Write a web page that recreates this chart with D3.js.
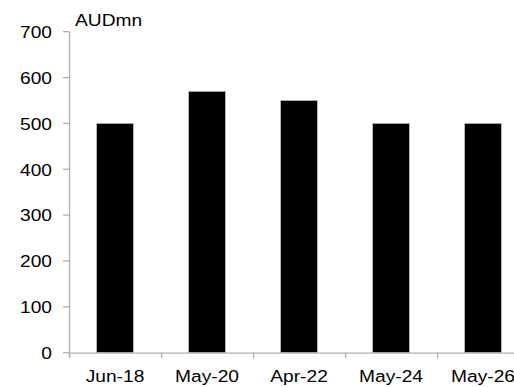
<!DOCTYPE html>
<html lang="en">
<head>
<meta charset="UTF-8">
<script src="https://d3js.org/d3.v7.min.js"></script>
<style>
  body { margin: 0; background: #fff; }
  svg { display: block; font-family: "Liberation Sans", Arial, sans-serif; }
</style>
</head>
<body>
<svg width="514" height="387"></svg>
<script>
const categories = ["Jun-18", "May-20", "Apr-22", "May-24", "May-26"]
const values = [500, 570, 550, 500, 500]
const yTicks = [0, 100, 200, 300, 400, 500, 600, 700]
const unitLabel = "AUDmn"

const svg = d3.select("svg")
const axisColor = "#b0b0b0"
const fontSize = 17
const stretch = 1.13 // text in the original looks a bit wide

const x = d3.scaleBand()
  .domain(categories)
  .range([69, 529])
  .paddingInner(0.6)
  .paddingOuter(0.3)
const y = d3.scaleLinear().domain([0, 700]).range([352.7, 31.7])

// bars
svg.selectAll("rect.bar")
  .data(values)
  .enter()
  .append("rect")
  .attr("class", "bar")
  .attr("x", (d, i) => x(categories[i]))
  .attr("y", d => y(d))
  .attr("width", x.bandwidth())
  .attr("height", d => y(0) - y(d))
  .attr("fill", "#000")
  .attr("stroke", "#c8c8c8")
  .attr("stroke-width", 0.6)

// y axis
svg.append("line")
  .attr("x1", 69.5).attr("x2", 69.5)
  .attr("y1", y(700)).attr("y2", y(0) + 5)
  .attr("stroke", axisColor).attr("stroke-width", 1.3)
svg.selectAll("line.ytick")
  .data(yTicks)
  .enter()
  .append("line")
  .attr("class", "ytick")
  .attr("x1", 63).attr("x2", 69.5)
  .attr("y1", d => y(d)).attr("y2", d => y(d))
  .attr("stroke", axisColor).attr("stroke-width", 1.3)
svg.selectAll("text.ylab")
  .data(yTicks)
  .enter()
  .append("text")
  .attr("class", "ylab")
  .attr("transform", d => `translate(52,${y(d) + 6.3}) scale(${stretch},1)`)
  .attr("text-anchor", "end")
  .attr("font-size", fontSize)
  .attr("fill", "#000")
  .text(d => d)

// x axis
svg.append("line")
  .attr("x1", 69).attr("x2", 514)
  .attr("y1", y(0) + 0.5).attr("y2", y(0) + 0.5)
  .attr("stroke", axisColor).attr("stroke-width", 1.3)
const step = x.step()
const bounds = categories.map(c => x(c) - step * 0.3)
svg.selectAll("line.xtick")
  .data(bounds)
  .enter()
  .append("line")
  .attr("class", "xtick")
  .attr("x1", d => d + 0.5).attr("x2", d => d + 0.5)
  .attr("y1", y(0)).attr("y2", y(0) + 5.5)
  .attr("stroke", axisColor).attr("stroke-width", 1.3)
svg.selectAll("text.xlab")
  .data(categories)
  .enter()
  .append("text")
  .attr("class", "xlab")
  .attr("transform", d => `translate(${x(d) + x.bandwidth() / 2},382) scale(${stretch},1)`)
  .attr("text-anchor", "middle")
  .attr("font-size", fontSize)
  .attr("fill", "#000")
  .text(d => d)

// unit label
svg.append("text")
  .attr("transform", `translate(75,25.5) scale(${stretch},1)`)
  .attr("font-size", fontSize)
  .attr("fill", "#000")
  .text(unitLabel)
</script>
</body>
</html>
